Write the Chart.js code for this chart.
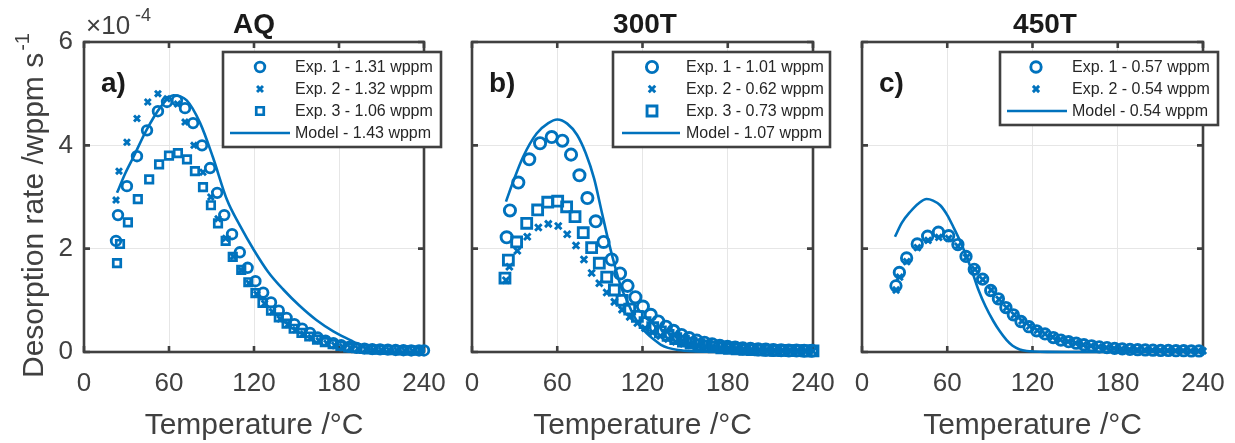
<!DOCTYPE html>
<html>
<head>
<meta charset="utf-8">
<script src="https://cdn.jsdelivr.net/npm/chart.js"></script>
<style>
  html, body { margin: 0; padding: 0; background: #fff; }
  #wrap { position: relative; width: 1235px; height: 443px; overflow: hidden; }
  canvas { position: absolute; top: 0; }
</style>
</head>
<body>
<div id="wrap">
  <canvas id="cAQ" width="450" height="443" style="left:0px"></canvas>
  <canvas id="c300" width="400" height="443" style="left:440px"></canvas>
  <canvas id="c450" width="405" height="443" style="left:830px"></canvas>
</div>
<script>
// axis ticks
const xTicks = [0, 60, 120, 180, 240];
const yTicks = [0, 2, 4, 6];   // x 10^-4 wppm/s

// ---- AQ ----
const aqLabels = ['Exp. 1 - 1.31 wppm', 'Exp. 2 - 1.32 wppm', 'Exp. 3 - 1.06 wppm', 'Model - 1.43 wppm'];
const aqT1 = [22.6, 24, 30.3, 37.4, 44.5, 52.2, 58.6, 65.6, 71.3, 77, 83.3, 89, 94, 99, 104.5, 110, 115.5, 121, 126.5, 132, 137.5, 143, 148.5, 154, 159.5, 165, 170.5, 176, 181.5, 187, 192.5, 198, 203.5, 209, 214.5, 220, 225.5, 231, 236.5, 240];
const aqR1 = [2.15, 2.65, 3.21, 3.79, 4.29, 4.66, 4.84, 4.87, 4.72, 4.43, 4.0, 3.56, 3.08, 2.65, 2.28, 1.93, 1.63, 1.37, 1.15, 0.96, 0.8, 0.66, 0.54, 0.45, 0.37, 0.28, 0.22, 0.17, 0.13, 0.1, 0.08, 0.065, 0.055, 0.05, 0.045, 0.04, 0.035, 0.03, 0.03, 0.03];
const aqT2 = [22.6, 24.7, 30.3, 37.4, 45, 52.2, 58.6, 66, 71.3, 77.6, 84, 89.5, 94.6, 100, 105.5, 111, 116.5, 122, 127.5, 133, 138.5, 144, 149.5, 155, 160.5, 166, 171.5, 177, 182.5, 188, 193.5, 199, 204.5, 210, 215.5, 221, 226.5, 232, 237.5];
const aqR2 = [2.94, 3.5, 4.06, 4.52, 4.84, 5.0, 4.9, 4.8, 4.45, 4.0, 3.48, 3.0, 2.58, 2.2, 1.85, 1.58, 1.33, 1.12, 0.94, 0.78, 0.64, 0.53, 0.43, 0.35, 0.28, 0.22, 0.17, 0.13, 0.1, 0.08, 0.065, 0.055, 0.045, 0.04, 0.035, 0.03, 0.03, 0.025, 0.025];
const aqT3 = [23.3, 25.4, 31, 38, 46, 53, 60, 66.3, 72.7, 78.3, 84, 89.6, 94.6, 100, 105, 111, 116, 121, 126, 132, 137.5, 143, 148, 153.5, 159, 164.5, 170, 175.5, 181, 186.5, 192, 197.5, 203, 208.5, 214, 219.5, 225, 230.5, 236];
const aqR3 = [1.72, 2.09, 2.51, 2.96, 3.34, 3.63, 3.8, 3.85, 3.73, 3.5, 3.19, 2.84, 2.49, 2.15, 1.84, 1.59, 1.35, 1.14, 0.95, 0.8, 0.67, 0.55, 0.45, 0.37, 0.3, 0.24, 0.19, 0.15, 0.12, 0.09, 0.075, 0.06, 0.05, 0.045, 0.04, 0.035, 0.03, 0.03, 0.025];
const aqTm = [23.3, 29, 35, 44, 54, 63, 72.5, 82, 91, 101, 110, 120, 130, 141, 152, 164, 176, 188, 196, 202, 210, 220, 240];
const aqRm = [3.08, 3.45, 3.78, 4.29, 4.74, 4.97, 4.87, 4.43, 3.77, 2.94, 2.45, 1.97, 1.55, 1.2, 0.9, 0.62, 0.4, 0.23, 0.12, 0.05, 0.02, 0.01, 0.005];

// ---- 300T ----
const h3Labels = ['Exp. 1 - 1.01 wppm', 'Exp. 2 - 0.62 wppm', 'Exp. 3 - 0.73 wppm', 'Model - 1.07 wppm'];
const h3T1 = [24.4, 26.7, 32.6, 40.3, 47.9, 56.1, 63.6, 69.7, 75.6, 81.2, 87.1, 92.6, 98.3, 104.2, 109.5, 115, 120.3, 125.8, 131.1, 136.5, 141.8, 147.4, 152.8, 158.2, 163.6, 169, 174.4, 179.8, 185.2, 190.6, 196, 201.4, 206.8, 212.2, 217.6, 223, 228.4, 233.8, 239.2];
const h3R1 = [2.22, 2.74, 3.28, 3.73, 4.04, 4.16, 4.09, 3.82, 3.42, 2.98, 2.53, 2.13, 1.79, 1.52, 1.28, 1.06, 0.88, 0.72, 0.59, 0.49, 0.41, 0.33, 0.27, 0.22, 0.18, 0.15, 0.12, 0.1, 0.085, 0.07, 0.06, 0.05, 0.045, 0.04, 0.035, 0.03, 0.03, 0.025, 0.025];
const h3T2 = [23.9, 26.3, 31.9, 38.9, 46.7, 53.7, 60.7, 67, 73.2, 78.8, 84.2, 89.6, 94.8, 100.2, 105.6, 111, 116.4, 121.8, 127.2, 132.6, 138, 143.4, 148.8, 154.2, 159.6, 165, 170.4, 175.8, 181.2, 186.6, 192, 197.4, 202.8, 208.2, 213.6, 219, 224.4, 229.8, 235.2, 240];
const h3R2 = [1.39, 1.65, 1.96, 2.23, 2.41, 2.48, 2.44, 2.28, 2.06, 1.79, 1.53, 1.33, 1.15, 0.97, 0.82, 0.68, 0.56, 0.46, 0.38, 0.31, 0.25, 0.2, 0.16, 0.13, 0.11, 0.09, 0.075, 0.06, 0.05, 0.045, 0.04, 0.035, 0.03, 0.03, 0.025, 0.025, 0.02, 0.02, 0.02, 0.02];
const h3T3 = [23.2, 25.6, 31.4, 38.5, 46.2, 53.3, 60.3, 66.6, 72.5, 78.3, 84.2, 89.6, 94.8, 100.2, 105.6, 111, 116.4, 121.8, 127.2, 132.6, 138, 143.4, 148.8, 154.2, 159.6, 165, 170.4, 175.8, 181.2, 186.6, 192, 197.4, 202.8, 208.2, 213.6, 219, 224.4, 229.8, 235.2, 240];
const h3R3 = [1.43, 1.78, 2.13, 2.49, 2.75, 2.9, 2.92, 2.81, 2.62, 2.31, 2.02, 1.72, 1.45, 1.2, 1.0, 0.83, 0.69, 0.57, 0.47, 0.39, 0.32, 0.26, 0.21, 0.17, 0.14, 0.12, 0.1, 0.08, 0.07, 0.06, 0.05, 0.045, 0.04, 0.035, 0.03, 0.03, 0.025, 0.025, 0.02, 0.02];
const h3Tm = [23.9, 29, 36, 45.5, 53.7, 60, 67, 74, 80, 86, 91, 96, 101, 105, 109, 113, 118, 123, 128, 133, 138, 145, 155, 170, 200, 240];
const h3Rm = [2.91, 3.3, 3.78, 4.23, 4.43, 4.5, 4.42, 4.2, 3.85, 3.35, 2.75, 2.15, 1.62, 1.25, 1.0, 0.75, 0.52, 0.36, 0.24, 0.14, 0.08, 0.04, 0.015, 0.005, 0.002, 0.001];

// ---- 450T ----
const h4Labels = ['Exp. 1 - 0.57 wppm', 'Exp. 2 - 0.54 wppm', 'Model - 0.54 wppm'];
const h4T1 = [23.9, 26.3, 31.4, 38.9, 46.2, 53.8, 61, 67.5, 73.2, 79, 84.9, 90.6, 96, 101.3, 106.5, 111.9, 117.5, 122.9, 128.8, 134.6, 140, 145.4, 150.8, 156.2, 161.6, 167, 172.4, 177.8, 183.2, 188.6, 194, 199.4, 204.8, 210.2, 215.6, 221, 226.4, 231.8, 237.2];
const h4R1 = [1.28, 1.54, 1.82, 2.09, 2.24, 2.32, 2.25, 2.08, 1.85, 1.6, 1.41, 1.19, 1.03, 0.86, 0.72, 0.59, 0.49, 0.41, 0.35, 0.28, 0.23, 0.2, 0.17, 0.14, 0.12, 0.1, 0.085, 0.07, 0.06, 0.05, 0.045, 0.04, 0.035, 0.03, 0.03, 0.025, 0.025, 0.02, 0.02];
const h4T2 = [24, 26.5, 31.5, 39, 46.5, 54, 61, 67.5, 73.5, 79.5, 85, 91, 96.5, 101.8, 107.2, 112.6, 118, 123.4, 128.8, 134.2, 139.6, 145, 150.4, 155.8, 161.2, 166.6, 172, 177.4, 182.8, 188.2, 193.6, 199, 204.4, 209.8, 215.2, 220.6, 226, 231.4, 236.8, 240];
const h4R2 = [1.2, 1.45, 1.75, 2.02, 2.16, 2.22, 2.2, 2.05, 1.83, 1.6, 1.4, 1.2, 1.02, 0.86, 0.72, 0.6, 0.5, 0.42, 0.35, 0.29, 0.24, 0.2, 0.17, 0.14, 0.12, 0.1, 0.085, 0.07, 0.06, 0.05, 0.045, 0.04, 0.035, 0.03, 0.03, 0.025, 0.025, 0.02, 0.02, 0.02];
const h4Tm = [23.2, 28, 33.8, 40, 45.5, 50, 55, 60, 64.3, 69, 73.7, 78, 82, 87, 92.4, 97, 101.8, 106, 111, 116, 121, 130, 150, 240];
const h4Rm = [2.23, 2.5, 2.71, 2.88, 2.96, 2.93, 2.84, 2.65, 2.42, 2.15, 1.84, 1.52, 1.2, 0.88, 0.6, 0.4, 0.23, 0.12, 0.05, 0.02, 0.01, 0.003, 0.001, 0];

const BLUE = '#0072BD';
const AXIS = '#404040';
const TXT = '#404040';
const FONT = '"Liberation Sans", Arial, Helvetica, sans-serif';

function pts(t, r) { return t.map((v, i) => ({x: v, y: r[i]})); }

function markerPath(ctx, style, x, y, r) {
  ctx.beginPath();
  if (style === 'circle') {
    ctx.arc(x, y, r, 0, Math.PI * 2);
  } else if (style === 'rect') {
    const s = r * Math.SQRT1_2;
    ctx.rect(x - s, y - s, 2 * s, 2 * s);
  } else {
    const s = r * Math.SQRT1_2;
    ctx.moveTo(x - s, y - s); ctx.lineTo(x + s, y + s);
    ctx.moveTo(x + s, y - s); ctx.lineTo(x - s, y + s);
  }
  ctx.stroke();
}

const decor = {
  id: 'decor',
  beforeDatasetsDraw(chart, args, o) {
    const {ctx, chartArea: a, scales: {x, y}} = chart;
    ctx.save();
    ctx.strokeStyle = AXIS;
    ctx.lineWidth = 2.6;
    ctx.beginPath();
    x.ticks.forEach(t => {
      const px = x.getPixelForValue(t.value);
      ctx.moveTo(px, a.bottom); ctx.lineTo(px, a.bottom - 6);
      ctx.moveTo(px, a.top); ctx.lineTo(px, a.top + 6);
    });
    y.ticks.forEach(t => {
      const py = y.getPixelForValue(t.value);
      ctx.moveTo(a.left, py); ctx.lineTo(a.left + 6, py);
      ctx.moveTo(a.right, py); ctx.lineTo(a.right - 6, py);
    });
    ctx.stroke();
    ctx.strokeRect(a.left, a.top, a.right - a.left, a.bottom - a.top);
    ctx.restore();
  },
  afterDraw(chart, args, o) {
    const {ctx, chartArea: a} = chart;
    ctx.save();
    // title
    ctx.fillStyle = '#1a1a1a';
    ctx.font = 'bold 28px ' + FONT;
    ctx.textAlign = 'center';
    ctx.textBaseline = 'alphabetic';
    ctx.fillText(o.title, o.titleX, 33);
    // panel letter
    ctx.font = 'bold 28px ' + FONT;
    ctx.textAlign = 'left';
    ctx.fillText(o.letter, a.left + 17, 92);
    // x axis title
    ctx.fillStyle = TXT;
    ctx.font = '30px ' + FONT;
    ctx.textAlign = 'center';
    ctx.fillText('Temperature /\u00B0C', (a.left + a.right) / 2, 434);
    if (o.yLabel) {
      // exponent
      ctx.textAlign = 'left';
      ctx.font = '26px ' + FONT;
      ctx.fillText('\u00D710', 86, 34);
      ctx.font = '18px ' + FONT;
      ctx.fillText('-4', 135, 21);
      // y axis title
      ctx.save();
      ctx.translate(43, 378);
      ctx.rotate(-Math.PI / 2);
      ctx.font = '30px ' + FONT;
      const main = 'Desorption rate /wppm s';
      ctx.fillText(main, 0, 0);
      const w = ctx.measureText(main).width;
      ctx.font = '20px ' + FONT;
      ctx.fillText('-1', w + 2, -14);
      ctx.restore();
    }
    // legend
    const L = o.legend;
    ctx.fillStyle = '#fff';
    ctx.fillRect(L.x, L.y, L.w, L.h);
    ctx.strokeStyle = AXIS;
    ctx.lineWidth = 2.6;
    ctx.strokeRect(L.x, L.y, L.w, L.h);
    ctx.font = '16px ' + FONT;
    ctx.textAlign = 'left';
    ctx.textBaseline = 'middle';
    chart.data.datasets.forEach((ds, i) => {
      const yy = L.y + 15 + i * 22;
      ctx.strokeStyle = BLUE;
      if (ds.showLine) {
        ctx.lineWidth = 2.6;
        ctx.beginPath();
        ctx.moveTo(L.lx0, yy); ctx.lineTo(L.lx1, yy);
        ctx.stroke();
      } else {
        ctx.lineWidth = ds.borderWidth;
        markerPath(ctx, ds.pointStyle, L.mx, yy, ds.pointRadius);
      }
      ctx.fillStyle = '#262626';
      ctx.fillText(ds.label, L.tx, yy + 1);
    });
    ctx.restore();
  }
};

function expSet(label, t, r, style, radius, bw, order) {
  return {
    label: label, data: pts(t, r), showLine: false,
    pointStyle: style, pointRadius: radius, pointBorderWidth: bw, borderWidth: bw,
    borderColor: BLUE, backgroundColor: 'rgba(0,0,0,0)', pointBackgroundColor: 'rgba(0,0,0,0)',
    clip: false, order: order
  };
}
function modelSet(label, t, r) {
  return {
    label: label, data: pts(t, r), showLine: true, pointRadius: 0,
    borderColor: BLUE, borderWidth: 2.6, cubicInterpolationMode: 'monotone',
    fill: false, clip: false, order: 0
  };
}

function panel(id, datasets, cfg) {
  return new Chart(document.getElementById(id), {
    type: 'scatter',
    data: {datasets: datasets},
    options: {
      responsive: false,
      animation: false,
      events: [],
      layout: {padding: {top: 42, right: cfg.padRight, left: 0, bottom: 0}},
      plugins: {
        legend: {display: false},
        title: {display: false},
        tooltip: {enabled: false},
        decor: cfg.decor
      },
      scales: {
        x: {
          type: 'linear', min: xTicks[0], max: xTicks[xTicks.length - 1],
          ticks: {stepSize: xTicks[1] - xTicks[0], color: TXT, font: {family: FONT, size: 26}, padding: 16, maxRotation: 0, autoSkip: false},
          grid: {color: '#e6e6e6', lineWidth: 1, drawTicks: false},
          border: {display: false},
          afterFit: s => { s.height = 91; s.paddingLeft = 0; s.paddingRight = 0; }
        },
        y: {
          type: 'linear', min: yTicks[0], max: yTicks[yTicks.length - 1],
          ticks: {stepSize: yTicks[1] - yTicks[0], display: cfg.showY, color: TXT, font: {family: FONT, size: 26}, padding: 11},
          grid: {color: '#e6e6e6', lineWidth: 1, drawTicks: false},
          border: {display: false},
          afterFit: s => { s.width = cfg.yWidth; s.paddingTop = 0; s.paddingBottom = 0; }
        }
      }
    },
    plugins: [decor]
  });
}

panel('cAQ', [
  expSet(aqLabels[0], aqT1, aqR1, 'circle', 4.8, 2.8, 3),
  expSet(aqLabels[1], aqT2, aqR2, 'crossRot', 4.2, 2.9, 2),
  expSet(aqLabels[2], aqT3, aqR3, 'rect', 5.3, 2.7, 1),
  modelSet(aqLabels[3], aqTm, aqRm)
], {
  padRight: 26, yWidth: 84, showY: true,
  decor: {title: 'AQ', titleX: 254, letter: 'a)', yLabel: true,
    legend: {x: 223, y: 52, w: 218, h: 95, mx: 260, lx0: 230, lx1: 290, tx: 295}}
});

panel('c300', [
  expSet(h3Labels[0], h3T1, h3R1, 'circle', 5.6, 2.9, 3),
  expSet(h3Labels[1], h3T2, h3R2, 'crossRot', 4.6, 2.9, 2),
  expSet(h3Labels[2], h3T3, h3R3, 'rect', 7, 2.9, 1),
  modelSet(h3Labels[3], h3Tm, h3Rm)
], {
  padRight: 27, yWidth: 32, showY: false,
  decor: {title: '300T', titleX: 645 - 440, letter: 'b)', yLabel: false,
    legend: {x: 613 - 440, y: 52, w: 217, h: 95, mx: 652 - 440, lx0: 622 - 440, lx1: 680 - 440, tx: 686 - 440}}
});

panel('c450', [
  expSet(h4Labels[0], h4T1, h4R1, 'circle', 5.2, 2.9, 2),
  expSet(h4Labels[1], h4T2, h4R2, 'crossRot', 4.4, 2.9, 1),
  modelSet(h4Labels[2], h4Tm, h4Rm)
], {
  padRight: 32, yWidth: 32, showY: false,
  decor: {title: '450T', titleX: 1045 - 830, letter: 'c)', yLabel: false,
    legend: {x: 1000 - 830, y: 52, w: 218, h: 73, mx: 1036 - 830, lx0: 1007 - 830, lx1: 1067 - 830, tx: 1072 - 830}}
});
</script>
</body>
</html>
